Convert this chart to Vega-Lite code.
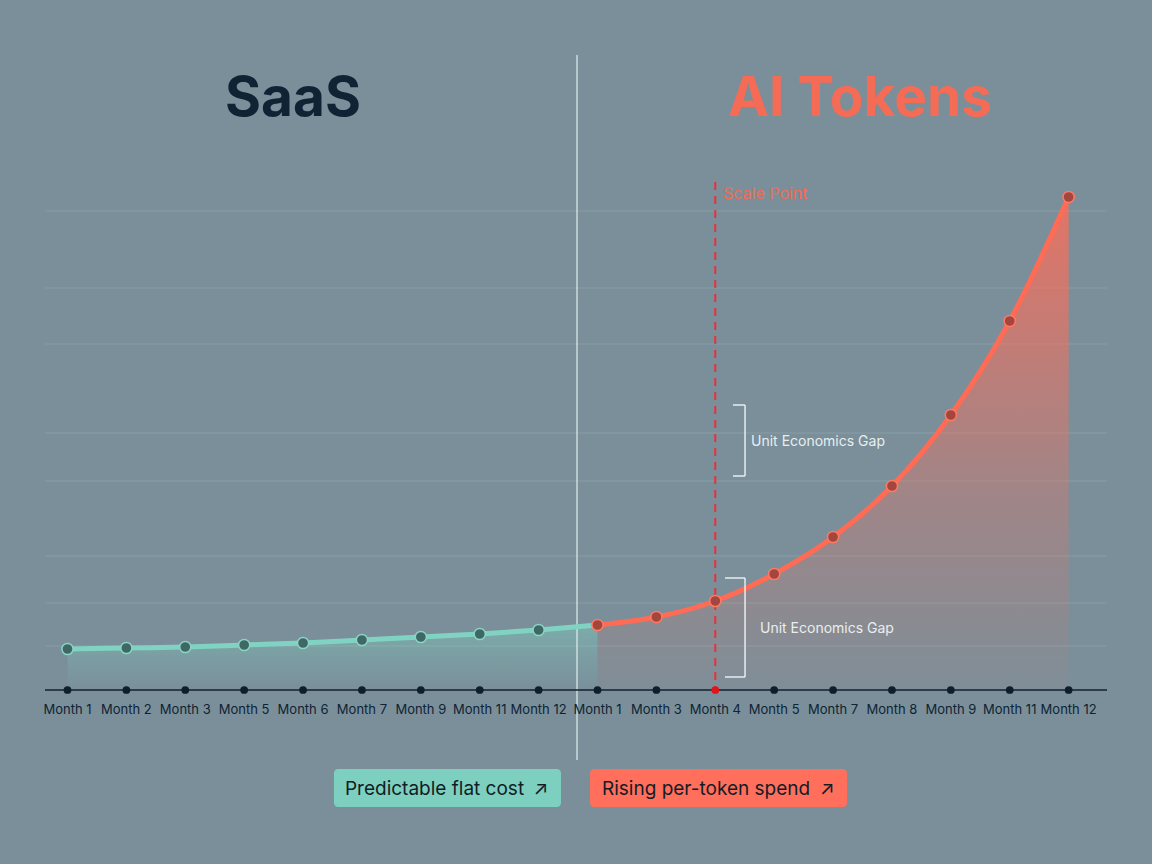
{
  "$schema": "https://vega.github.io/schema/vega-lite/v6.json",
  "width": 1152,
  "height": 864,
  "autosize": {"type": "none"},
  "padding": 0,
  "background": "#7a8f9a",
  "config": {"view": {"stroke": null}, "axis": {"disable": true}, "font": "Inter"},
  "datasets": {
    "pts": [
      {"i": 1, "label": "Month 1", "cost": 41},
      {"i": 2, "label": "Month 2", "cost": 42},
      {"i": 3, "label": "Month 3", "cost": 43},
      {"i": 4, "label": "Month 5", "cost": 45},
      {"i": 5, "label": "Month 6", "cost": 47},
      {"i": 6, "label": "Month 7", "cost": 50},
      {"i": 7, "label": "Month 9", "cost": 53},
      {"i": 8, "label": "Month 11", "cost": 56},
      {"i": 9, "label": "Month 12", "cost": 60},
      {"i": 10, "label": "Month 1", "cost": 65},
      {"i": 11, "label": "Month 3", "cost": 73},
      {"i": 12, "label": "Month 4", "cost": 89},
      {"i": 13, "label": "Month 5", "cost": 116},
      {"i": 14, "label": "Month 7", "cost": 153},
      {"i": 15, "label": "Month 8", "cost": 204},
      {"i": 16, "label": "Month 9", "cost": 275},
      {"i": 17, "label": "Month 11", "cost": 369},
      {"i": 18, "label": "Month 12", "cost": 493}
    ],
    "grid": [{"v": 479}, {"v": 402}, {"v": 346}, {"v": 257}, {"v": 209}, {"v": 134}, {"v": 87}, {"v": 44}]
  },
  "layer": [
    {
      "data": {"name": "grid"},
      "mark": {"type": "rule", "stroke": "#ffffff", "strokeOpacity": 0.13, "strokeWidth": 1},
      "encoding": {
        "x": {"datum": 0.618, "type": "quantitative", "scale": {"domain": [-0.1461, 19.4157], "nice": false, "zero": false}},
        "x2": {"datum": 18.652},
        "y": {"field": "v", "type": "quantitative", "scale": {"domain": [-174, 690], "nice": false, "zero": false}}
      }
    },
    {
      "data": {"name": "pts"},
      "transform": [{"filter": "datum.i <= 10"}],
      "mark": {"type": "area", "interpolate": "monotone", "color": {"gradient": "linear", "x1": 0, "y1": 0, "x2": 0, "y2": 1, "stops": [{"offset": 0, "color": "rgba(128,211,194,0.42)"}, {"offset": 1, "color": "rgba(128,211,194,0)"}]}},
      "encoding": {
        "x": {"field": "i", "type": "quantitative", "scale": {"domain": [-0.1461, 19.4157], "nice": false, "zero": false}},
        "y": {"field": "cost", "type": "quantitative", "scale": {"domain": [-174, 690], "nice": false, "zero": false}},
        "y2": {"datum": 0}
      }
    },
    {
      "data": {"name": "pts"},
      "transform": [{"filter": "datum.i >= 10"}],
      "mark": {"type": "area", "interpolate": "monotone", "color": {"gradient": "linear", "x1": 0, "y1": 0, "x2": 0, "y2": 1, "stops": [{"offset": 0, "color": "rgba(250,110,90,0.82)"}, {"offset": 0.6, "color": "rgba(250,110,90,0.3)"}, {"offset": 1, "color": "rgba(250,110,90,0.04)"}]}},
      "encoding": {
        "x": {"field": "i", "type": "quantitative", "scale": {"domain": [-0.1461, 19.4157], "nice": false, "zero": false}},
        "y": {"field": "cost", "type": "quantitative", "scale": {"domain": [-174, 690], "nice": false, "zero": false}},
        "y2": {"datum": 0}
      }
    },
    {
      "data": {"name": "pts"},
      "mark": {"type": "rule", "stroke": "#e8f4f3", "strokeOpacity": 0.75, "strokeWidth": 1.5},
      "transform": [{"filter": "datum.i == 1"}],
      "encoding": {
        "x": {"datum": 9.652, "type": "quantitative", "scale": {"domain": [-0.1461, 19.4157], "nice": false, "zero": false}},
        "y": {"datum": 635, "type": "quantitative", "scale": {"domain": [-174, 690], "nice": false, "zero": false}},
        "y2": {"datum": -70}
      }
    },
    {
      "data": {"name": "pts"},
      "transform": [{"filter": "datum.i <= 10"}],
      "mark": {"type": "line", "interpolate": "monotone", "stroke": "#80d3c2", "strokeWidth": 5},
      "encoding": {
        "x": {"field": "i", "type": "quantitative", "scale": {"domain": [-0.1461, 19.4157], "nice": false, "zero": false}},
        "y": {"field": "cost", "type": "quantitative", "scale": {"domain": [-174, 690], "nice": false, "zero": false}}
      }
    },
    {
      "data": {"name": "pts"},
      "transform": [{"filter": "datum.i >= 10"}],
      "mark": {"type": "line", "interpolate": "monotone", "stroke": "#ff6b55", "strokeWidth": 5},
      "encoding": {
        "x": {"field": "i", "type": "quantitative", "scale": {"domain": [-0.1461, 19.4157], "nice": false, "zero": false}},
        "y": {"field": "cost", "type": "quantitative", "scale": {"domain": [-174, 690], "nice": false, "zero": false}}
      }
    },
    {
      "data": {"name": "pts"},
      "transform": [{"filter": "datum.i == 1"}],
      "mark": {"type": "rule", "stroke": "#e8323a", "strokeWidth": 2, "strokeDash": [8, 6]},
      "encoding": {
        "x": {"datum": 12, "type": "quantitative", "scale": {"domain": [-0.1461, 19.4157], "nice": false, "zero": false}},
        "y": {"datum": 508, "type": "quantitative", "scale": {"domain": [-174, 690], "nice": false, "zero": false}},
        "y2": {"datum": 0}
      }
    },
    {
      "data": {"name": "pts"},
      "mark": {"type": "point", "filled": true, "size": 125, "strokeWidth": 1.5, "opacity": 1},
      "encoding": {
        "x": {"field": "i", "type": "quantitative", "scale": {"domain": [-0.1461, 19.4157], "nice": false, "zero": false}},
        "y": {"field": "cost", "type": "quantitative", "scale": {"domain": [-174, 690], "nice": false, "zero": false}},
        "color": {"condition": {"test": "datum.i <= 9", "value": "#3f6864"}, "value": "#a5463e"},
        "stroke": {"condition": {"test": "datum.i <= 9", "value": "#8ad6c6"}, "value": "#ff7a63"}
      }
    },
    {
      "data": {"name": "pts"},
      "transform": [{"filter": "datum.i == 1"}],
      "mark": {"type": "rule", "stroke": "#14212d", "strokeWidth": 1.5},
      "encoding": {
        "x": {"datum": 0.618, "type": "quantitative", "scale": {"domain": [-0.1461, 19.4157], "nice": false, "zero": false}},
        "x2": {"datum": 18.652},
        "y": {"datum": 0, "type": "quantitative", "scale": {"domain": [-174, 690], "nice": false, "zero": false}}
      }
    },
    {
      "data": {"name": "pts"},
      "mark": {"type": "circle", "size": 60, "opacity": 1},
      "encoding": {
        "x": {"field": "i", "type": "quantitative", "scale": {"domain": [-0.1461, 19.4157], "nice": false, "zero": false}},
        "y": {"datum": 0, "type": "quantitative", "scale": {"domain": [-174, 690], "nice": false, "zero": false}},
        "color": {"condition": {"test": "datum.i == 12", "value": "#e0151a"}, "value": "#0f1e2b"}
      }
    },
    {
      "data": {"name": "pts"},
      "mark": {"type": "text", "fontSize": 13, "color": "#0f2333", "baseline": "middle", "align": "center"},
      "encoding": {
        "x": {"field": "i", "type": "quantitative", "scale": {"domain": [-0.1461, 19.4157], "nice": false, "zero": false}},
        "y": {"datum": -20, "type": "quantitative", "scale": {"domain": [-174, 690], "nice": false, "zero": false}},
        "text": {"field": "label"}
      }
    },
    {
      "data": {"name": "pts"},
      "transform": [{"filter": "datum.i == 1"}],
      "layer": [
        {
          "mark": {"type": "text", "text": "Scale Point", "fontSize": 16, "color": "#f36a57", "align": "left", "baseline": "middle"},
          "encoding": {
            "x": {"datum": 12.131, "type": "quantitative", "scale": {"domain": [-0.1461, 19.4157], "nice": false, "zero": false}},
            "y": {"datum": 496, "type": "quantitative", "scale": {"domain": [-174, 690], "nice": false, "zero": false}}
          }
        },
        {
          "mark": {"type": "text", "text": "SaaS", "fontSize": 55, "fontWeight": "bold", "color": "#0f2335", "align": "center", "baseline": "middle"},
          "encoding": {
            "x": {"datum": 4.829, "type": "quantitative", "scale": {"domain": [-0.1461, 19.4157], "nice": false, "zero": false}},
            "y": {"datum": 591, "type": "quantitative", "scale": {"domain": [-174, 690], "nice": false, "zero": false}}
          }
        },
        {
          "mark": {"type": "text", "text": "AI Tokens", "fontSize": 55, "fontWeight": "bold", "color": "#f46c56", "align": "center", "baseline": "middle"},
          "encoding": {
            "x": {"datum": 14.457, "type": "quantitative", "scale": {"domain": [-0.1461, 19.4157], "nice": false, "zero": false}},
            "y": {"datum": 591, "type": "quantitative", "scale": {"domain": [-174, 690], "nice": false, "zero": false}}
          }
        },
        {
          "mark": {"type": "rule", "stroke": "#e6eef0", "strokeWidth": 1.5},
          "encoding": {
            "x": {"datum": 12.301, "type": "quantitative", "scale": {"domain": [-0.1461, 19.4157], "nice": false, "zero": false}},
            "x2": {"datum": 12.505},
            "y": {"datum": 285, "type": "quantitative", "scale": {"domain": [-174, 690], "nice": false, "zero": false}}
          }
        },
        {
          "mark": {"type": "rule", "stroke": "#e6eef0", "strokeWidth": 1.5},
          "encoding": {
            "x": {"datum": 12.301, "type": "quantitative", "scale": {"domain": [-0.1461, 19.4157], "nice": false, "zero": false}},
            "x2": {"datum": 12.505},
            "y": {"datum": 214, "type": "quantitative", "scale": {"domain": [-174, 690], "nice": false, "zero": false}}
          }
        },
        {
          "mark": {"type": "rule", "stroke": "#e6eef0", "strokeWidth": 1.5},
          "encoding": {
            "x": {"datum": 12.505, "type": "quantitative", "scale": {"domain": [-0.1461, 19.4157], "nice": false, "zero": false}},
            "y": {"datum": 285, "type": "quantitative", "scale": {"domain": [-174, 690], "nice": false, "zero": false}},
            "y2": {"datum": 214}
          }
        },
        {
          "mark": {"type": "text", "text": "Unit Economics Gap", "fontSize": 14, "color": "#e8eef0", "align": "left", "baseline": "middle"},
          "encoding": {
            "x": {"datum": 12.607, "type": "quantitative", "scale": {"domain": [-0.1461, 19.4157], "nice": false, "zero": false}},
            "y": {"datum": 248, "type": "quantitative", "scale": {"domain": [-174, 690], "nice": false, "zero": false}}
          }
        },
        {
          "mark": {"type": "rule", "stroke": "#e6eef0", "strokeWidth": 1.5},
          "encoding": {
            "x": {"datum": 12.165, "type": "quantitative", "scale": {"domain": [-0.1461, 19.4157], "nice": false, "zero": false}},
            "x2": {"datum": 12.505},
            "y": {"datum": 112, "type": "quantitative", "scale": {"domain": [-174, 690], "nice": false, "zero": false}}
          }
        },
        {
          "mark": {"type": "rule", "stroke": "#e6eef0", "strokeWidth": 1.5},
          "encoding": {
            "x": {"datum": 12.165, "type": "quantitative", "scale": {"domain": [-0.1461, 19.4157], "nice": false, "zero": false}},
            "x2": {"datum": 12.505},
            "y": {"datum": 13, "type": "quantitative", "scale": {"domain": [-174, 690], "nice": false, "zero": false}}
          }
        },
        {
          "mark": {"type": "rule", "stroke": "#e6eef0", "strokeWidth": 1.5},
          "encoding": {
            "x": {"datum": 12.505, "type": "quantitative", "scale": {"domain": [-0.1461, 19.4157], "nice": false, "zero": false}},
            "y": {"datum": 112, "type": "quantitative", "scale": {"domain": [-174, 690], "nice": false, "zero": false}},
            "y2": {"datum": 13}
          }
        },
        {
          "mark": {"type": "text", "text": "Unit Economics Gap", "fontSize": 14, "color": "#e8eef0", "align": "left", "baseline": "middle"},
          "encoding": {
            "x": {"datum": 12.759, "type": "quantitative", "scale": {"domain": [-0.1461, 19.4157], "nice": false, "zero": false}},
            "y": {"datum": 61, "type": "quantitative", "scale": {"domain": [-174, 690], "nice": false, "zero": false}}
          }
        },
        {
          "mark": {"type": "rect", "color": "#7dcfbf", "cornerRadius": 4, "opacity": 1},
          "encoding": {
            "x": {"datum": 5.525, "type": "quantitative", "scale": {"domain": [-0.1461, 19.4157], "nice": false, "zero": false}},
            "x2": {"datum": 9.38},
            "y": {"datum": -79, "type": "quantitative", "scale": {"domain": [-174, 690], "nice": false, "zero": false}},
            "y2": {"datum": -117}
          }
        },
        {
          "mark": {"type": "rect", "color": "#ff6f5c", "cornerRadius": 4, "opacity": 1},
          "encoding": {
            "x": {"datum": 9.873, "type": "quantitative", "scale": {"domain": [-0.1461, 19.4157], "nice": false, "zero": false}},
            "x2": {"datum": 14.237},
            "y": {"datum": -79, "type": "quantitative", "scale": {"domain": [-174, 690], "nice": false, "zero": false}},
            "y2": {"datum": -117}
          }
        },
        {
          "mark": {"type": "text", "text": "Predictable flat cost\u2002↗", "fontSize": 19, "color": "#111d26", "align": "left", "baseline": "middle"},
          "encoding": {
            "x": {"datum": 5.712, "type": "quantitative", "scale": {"domain": [-0.1461, 19.4157], "nice": false, "zero": false}},
            "y": {"datum": -99, "type": "quantitative", "scale": {"domain": [-174, 690], "nice": false, "zero": false}}
          }
        },
        {
          "mark": {"type": "text", "text": "Rising per-token spend\u2002↗", "fontSize": 19, "color": "#111d26", "align": "left", "baseline": "middle"},
          "encoding": {
            "x": {"datum": 10.076, "type": "quantitative", "scale": {"domain": [-0.1461, 19.4157], "nice": false, "zero": false}},
            "y": {"datum": -99, "type": "quantitative", "scale": {"domain": [-174, 690], "nice": false, "zero": false}}
          }
        }
      ]
    }
  ]
}
